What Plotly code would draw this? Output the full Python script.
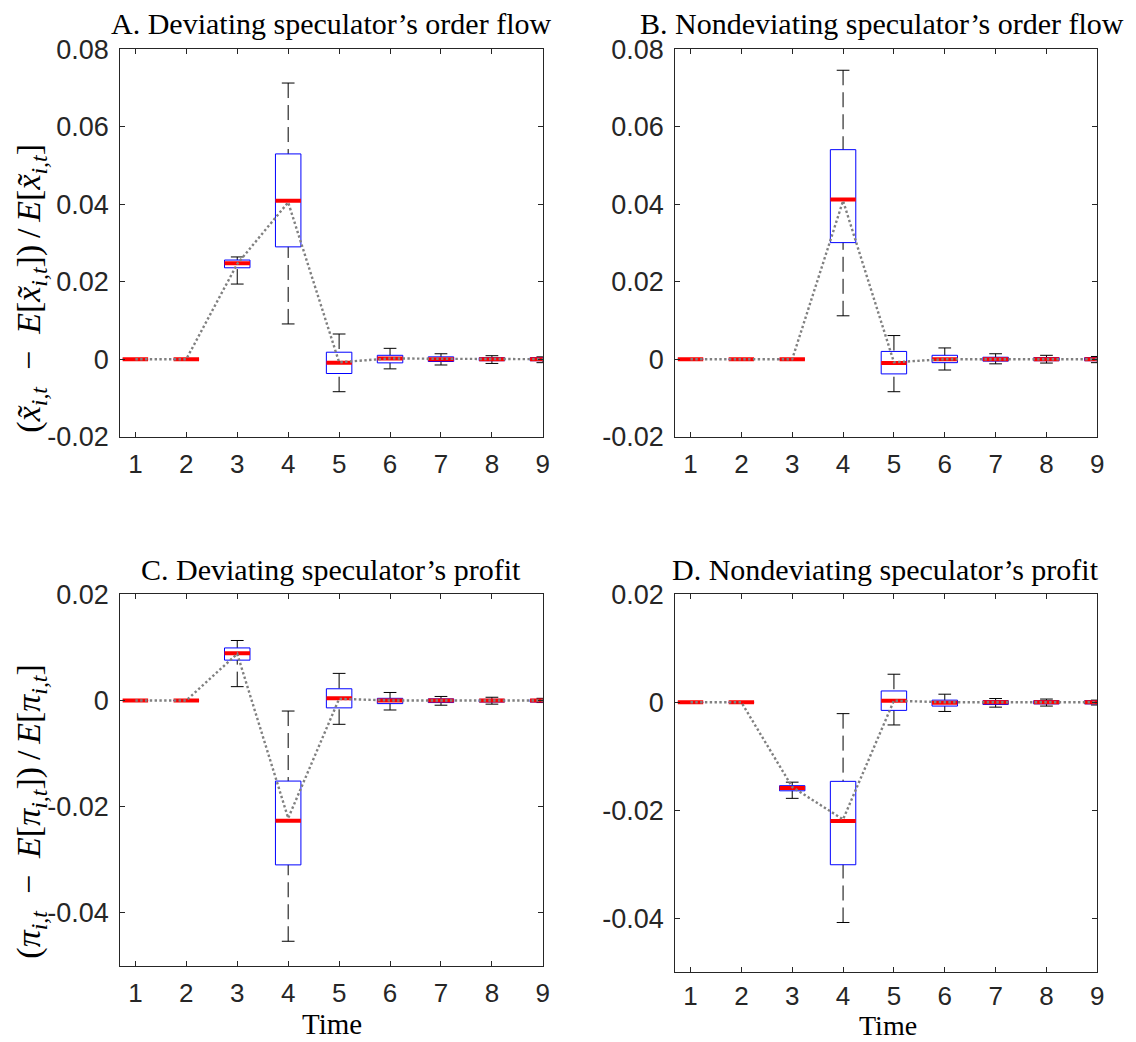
import plotly.graph_objects as go

# ---------------- data ----------------
times = [1, 2, 3, 4, 5, 6, 7, 8, 9]

# Panel A: deviating speculator's order flow
A_lo = [0, 0, 0.0194, 0.0091, -0.0084, -0.0025, -0.0015, -0.0011, -0.0009]
A_q1 = [0, 0, 0.0236, 0.0290, -0.0037, -0.00095, -0.0006, -0.0004, -0.0004]
A_med = [0, 0, 0.0248, 0.0409, -0.0009, 0.0002, 0.0000, 0.0000, 0.0000]
A_q3 = [0, 0, 0.0256, 0.0530, 0.0018, 0.0010, 0.0006, 0.0004, 0.0004]
A_hi = [0, 0, 0.0264, 0.0713, 0.0065, 0.0028, 0.0014, 0.0009, 0.0006]
A_mean = [0, 0, 0.0246, 0.0405, -0.0008, 0.0002, 0.0001, 0.0000, 0.0000]

# Panel B: nondeviating speculator's order flow
B_lo = [0, 0, 0, 0.0112, -0.0084, -0.0028, -0.0012, -0.0010, -0.0009]
B_q1 = [0, 0, 0, 0.0301, -0.0038, -0.0009, -0.0005, -0.0004, -0.0004]
B_med = [0, 0, 0, 0.0412, -0.0010, 0.0000, 0.0000, 0.0000, 0.0000]
B_q3 = [0, 0, 0, 0.0541, 0.0020, 0.0010, 0.0005, 0.0004, 0.0004]
B_hi = [0, 0, 0, 0.0746, 0.0061, 0.0029, 0.0014, 0.0010, 0.0007]
B_mean = [0, 0, 0, 0.0409, -0.0008, 0.0000, 0.0000, 0.0000, 0.0000]

# Panel C: deviating speculator's profit
C_lo = [0, 0, 0.0026, -0.0454, -0.0045, -0.0018, -0.0009, -0.0007, -0.0004]
C_q1 = [0, 0, 0.0076, -0.0310, -0.0014, -0.0006, -0.0004, -0.0003, -0.0003]
C_med = [0, 0, 0.0089, -0.0227, 0.0004, 0.0000, 0.0000, 0.0000, 0.0000]
C_q3 = [0, 0, 0.0099, -0.0152, 0.0022, 0.0004, 0.0003, 0.0002, 0.0002]
C_hi = [0, 0, 0.0113, -0.0020, 0.0051, 0.0015, 0.00075, 0.0006, 0.0004]
C_mean = [0, 0, 0.0088, -0.0222, 0.0003, 0.0000, 0.0000, 0.0000, 0.0000]

# Panel D: nondeviating speculator's profit
D_lo = [0, 0, -0.0178, -0.0408, -0.0042, -0.0017, -0.0009, -0.0007, -0.0005]
D_q1 = [0, 0, -0.0164, -0.0301, -0.0015, -0.0007, -0.0004, -0.0003, -0.0003]
D_med = [0, 0, -0.0159, -0.0220, 0.0003, -0.0001, 0.0000, 0.0000, 0.0000]
D_q3 = [0, 0, -0.01545, -0.01465, 0.0021, 0.0004, 0.0003, 0.0003, 0.0003]
D_hi = [0, 0, -0.0148, -0.0021, 0.0052, 0.0015, 0.0007, 0.0006, 0.0004]
D_mean = [0, 0, -0.0157, -0.0217, 0.0003, 0.0000, 0.0000, 0.0000, 0.0000]

titles = [
    "A. Deviating speculator\u2019s order flow",
    "B. Nondeviating speculator\u2019s order flow",
    "C. Deviating speculator\u2019s profit",
    "D. Nondeviating speculator\u2019s profit",
]
top_ticks = [-0.02, 0, 0.02, 0.04, 0.06, 0.08]
top_ticktext = ["-0.02", "0", "0.02", "0.04", "0.06", "0.08"]
bot_ticks = [-0.04, -0.02, 0, 0.02]
bot_ticktext = ["-0.04", "-0.02", "0", "0.02"]
x_ticktext = ["1", "2", "3", "4", "5", "6", "7", "8", "9"]
SUB = "<sub><i>i,t</i></sub>"
ylabel_top = ("(<i>x\u0303</i>" + SUB + "\u2002\u2212\u2002<i>E</i>[<i>x\u0303</i>" + SUB +
              "])\u2009/\u2009<i>E</i>[<i>x\u0303</i>" + SUB + "]")
ylabel_bot = ("(<i>\u03c0</i>" + SUB + "\u2002\u2212\u2002<i>E</i>[<i>\u03c0</i>" + SUB +
              "])\u2009/\u2009<i>E</i>[<i>\u03c0</i>" + SUB + "]")
xlabel = "Time"

panels = [
    (A_lo, A_q1, A_med, A_q3, A_hi, A_mean),
    (B_lo, B_q1, B_med, B_q3, B_hi, B_mean),
    (C_lo, C_q1, C_med, C_q3, C_hi, C_mean),
    (D_lo, D_q1, D_med, D_q3, D_hi, D_mean),
]

# ---------------- style ----------------
W, H = 1136, 1042
BOX_HW = 0.25
CAP_HW = 0.125
AXC = "#262626"
SERIF = "Liberation Serif"
SANS = "Liberation Sans"

# page-placement compensation (measured from earlier renders)
def px(R):
    return (R - 7.3) / 0.993

def py(R):
    return (R - 21.6) / 0.973

fig = go.Figure()

for k, (lo, q1, med, q3, hi, mean) in enumerate(panels):
    xa = "x" if k == 0 else f"x{k+1}"
    ya = "y" if k == 0 else f"y{k+1}"
    wx, wy, cx, cy, bx, by, mx, my = [], [], [], [], [], [], [], []
    for t, l, a, m, b, h in zip(times, lo, q1, med, q3, hi):
        wx += [t, t, None, t, t, None]
        wy += [h, b, None, l, a, None]
        cx += [t - CAP_HW, t + CAP_HW, None, t - CAP_HW, t + CAP_HW, None]
        cy += [h, h, None, l, l, None]
        bx += [t - BOX_HW, t + BOX_HW, t + BOX_HW, t - BOX_HW, t - BOX_HW, None]
        by += [a, a, b, b, a, None]
        mx += [t - BOX_HW, t + BOX_HW, None]
        my += [m, m, None]
    common = dict(xaxis=xa, yaxis=ya, mode="lines", hoverinfo="skip", showlegend=False)
    fig.add_trace(go.Scatter(x=wx, y=wy, line=dict(color="black", width=1, dash="15px,7px"), **common))
    fig.add_trace(go.Scatter(x=cx, y=cy, line=dict(color="black", width=1), **common))
    fig.add_trace(go.Scatter(x=bx, y=by, line=dict(color="#0000ff", width=1), **common))
    fig.add_trace(go.Scatter(x=mx, y=my, line=dict(color="#ff0000", width=4), **common))
    fig.add_trace(go.Scatter(x=times, y=mean, line=dict(color="#808080", width=2.4, dash="2.4px,2.4px"), **common))

xdom_L = [px(119.3) / W, px(541.7) / W]
xdom_R = [px(674.0) / W, px(1095.7) / W]
ydom_T = [1 - py(436.0) / H, 1 - py(48.0) / H]
ydom_C = [1 - py(966.0) / H, 1 - py(594.0) / H]
ydom_D = [1 - py(972.5) / H, 1 - py(594.0) / H]

def xaxis(dom, anchor, standoff=4):
    return dict(domain=dom, anchor=anchor, range=[0.7, 9.0], tickmode="array",
                tickvals=times, ticktext=x_ticktext, ticks="inside", ticklen=5,
                tickcolor=AXC, tickwidth=1, showline=True, linecolor=AXC, linewidth=1,
                mirror="ticks", showgrid=False, zeroline=False,
                tickfont=dict(family=SANS, size=26, color=AXC), ticklabelstandoff=standoff)

def yaxis(dom, anchor, rng, tv, tt):
    return dict(domain=dom, anchor=anchor, range=rng, tickmode="array",
                tickvals=tv, ticktext=tt, ticks="inside", ticklen=5,
                tickcolor=AXC, tickwidth=1, showline=True, linecolor=AXC, linewidth=1,
                mirror="ticks", showgrid=False, zeroline=False,
                tickfont=dict(family=SANS, size=27, color=AXC), ticklabelstandoff=5)

ann = []
def txt(x, y, s, size, angle=0):
    ann.append(dict(x=px(x) / W, y=1 - py(y) / H, xref="paper", yref="paper", text=s,
                    showarrow=False, xanchor="center", yanchor="middle", textangle=angle,
                    font=dict(family=SERIF, size=size, color="black")))

txt(330, 22, titles[0], 30)
txt(881, 22, titles[1], 30)
txt(330, 569, titles[2], 30)
txt(884, 569, titles[3], 30)
txt(30, 287, ylabel_top, 34, -90)
txt(30, 812, ylabel_bot, 34, -90)
txt(331, 1024, xlabel, 29)
txt(887, 1026, xlabel, 28)

fig.update_layout(
    width=W, height=H, margin=dict(l=0, r=0, t=0, b=0),
    paper_bgcolor="white", plot_bgcolor="white",
    xaxis=xaxis(xdom_L, "y"), yaxis=yaxis(ydom_T, "x", [-0.02, 0.08], top_ticks, top_ticktext),
    xaxis2=xaxis(xdom_R, "y2"), yaxis2=yaxis(ydom_T, "x2", [-0.02, 0.08], top_ticks, top_ticktext),
    xaxis3=xaxis(xdom_L, "y3"), yaxis3=yaxis(ydom_C, "x3", [-0.05, 0.02], bot_ticks, bot_ticktext),
    xaxis4=xaxis(xdom_R, "y4", standoff=1), yaxis4=yaxis(ydom_D, "x4", [-0.05, 0.02], bot_ticks, bot_ticktext),
    annotations=ann,
)

fig.write_html("out.html")
